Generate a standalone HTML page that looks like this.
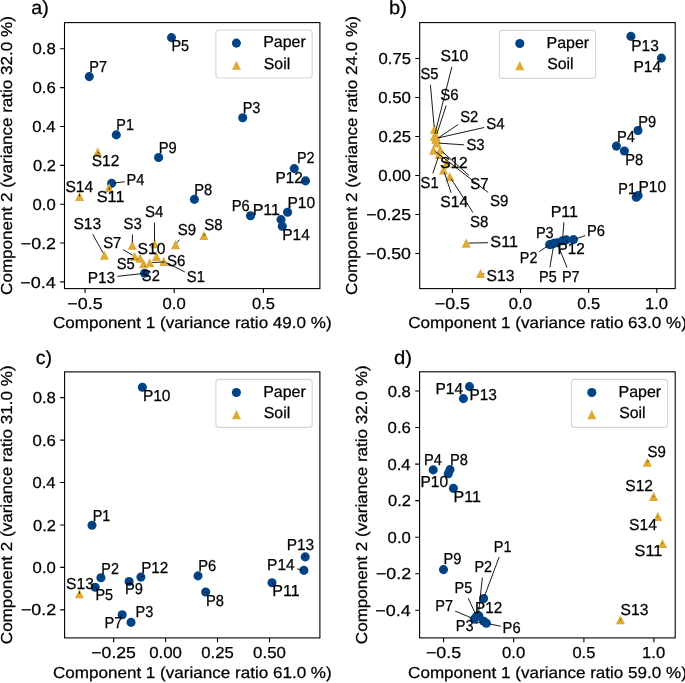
<!DOCTYPE html>
<html><head><meta charset="utf-8"><title>PCA scatter plots</title>
<style>
html,body{margin:0;padding:0;background:#fff;}
svg{display:block;will-change:transform;}
text{font-family:"Liberation Sans",sans-serif;fill:#000;stroke:#000;stroke-width:0.25px;text-rendering:geometricPrecision;}
</style></head><body>
<svg width="685" height="683" viewBox="0 0 685 683">
<rect width="685" height="683" fill="#fff"/>
<circle cx="171.5" cy="37.6" r="4.55" fill="#004488"/>
<circle cx="89.3" cy="76.6" r="4.55" fill="#004488"/>
<circle cx="116.3" cy="134.9" r="4.55" fill="#004488"/>
<circle cx="242.7" cy="117.7" r="4.55" fill="#004488"/>
<circle cx="158.6" cy="157.5" r="4.55" fill="#004488"/>
<circle cx="111.6" cy="183.4" r="4.55" fill="#004488"/>
<circle cx="194.4" cy="199.4" r="4.55" fill="#004488"/>
<circle cx="250.5" cy="215.8" r="4.55" fill="#004488"/>
<circle cx="281" cy="219.6" r="4.55" fill="#004488"/>
<circle cx="287.6" cy="212.3" r="4.55" fill="#004488"/>
<circle cx="282.3" cy="226.2" r="4.55" fill="#004488"/>
<circle cx="294.3" cy="168.6" r="4.55" fill="#004488"/>
<circle cx="305.5" cy="180.9" r="4.55" fill="#004488"/>
<circle cx="144.6" cy="273.3" r="4.55" fill="#004488"/>
<path d="M97.7 147.35L102.25 156.45L93.15 156.45Z" fill="#DDAA33"/>
<path d="M109.1 183.05L113.65 192.15L104.55 192.15Z" fill="#DDAA33"/>
<path d="M79.6 191.95L84.15 201.05L75.05 201.05Z" fill="#DDAA33"/>
<path d="M104.4 250.75L108.95 259.85L99.85 259.85Z" fill="#DDAA33"/>
<path d="M132.3 240.65L136.85 249.75L127.75 249.75Z" fill="#DDAA33"/>
<path d="M154.6 239.25L159.15 248.35L150.05 248.35Z" fill="#DDAA33"/>
<path d="M175.5 240.05L180.05 249.15L170.95 249.15Z" fill="#DDAA33"/>
<path d="M203.9 230.95L208.45 240.05L199.35 240.05Z" fill="#DDAA33"/>
<path d="M134.7 251.95L139.25 261.05L130.15 261.05Z" fill="#DDAA33"/>
<path d="M140 253.55L144.55 262.65L135.45 262.65Z" fill="#DDAA33"/>
<path d="M143.6 259.05L148.15 268.15L139.05 268.15Z" fill="#DDAA33"/>
<path d="M156.5 251.85L161.05 260.95L151.95 260.95Z" fill="#DDAA33"/>
<path d="M149.8 258.15L154.35 267.25L145.25 267.25Z" fill="#DDAA33"/>
<path d="M163.7 256.85L168.25 265.95L159.15 265.95Z" fill="#DDAA33"/>
<text x="171.51" y="51" font-size="15.9" textLength="17.6" lengthAdjust="spacingAndGlyphs">P5</text>
<text x="89.3" y="71.6" font-size="15.9" textLength="17.76" lengthAdjust="spacingAndGlyphs">P7</text>
<text x="116.31" y="130.4" font-size="15.9" textLength="17.63" lengthAdjust="spacingAndGlyphs">P1</text>
<text x="242.7" y="112.9" font-size="15.9" textLength="17.76" lengthAdjust="spacingAndGlyphs">P3</text>
<text x="158.69" y="152.9" font-size="15.9" textLength="17.93" lengthAdjust="spacingAndGlyphs">P9</text>
<text x="126.39" y="184.8" font-size="15.9" textLength="17.89" lengthAdjust="spacingAndGlyphs">P4</text>
<text x="194.29" y="194.7" font-size="15.9" textLength="17.93" lengthAdjust="spacingAndGlyphs">P8</text>
<text x="231.79" y="210.9" font-size="15.9" textLength="18.01" lengthAdjust="spacingAndGlyphs">P6</text>
<text x="252.67" y="214.7" font-size="15.9" textLength="27.4" lengthAdjust="spacingAndGlyphs">P11</text>
<text x="287.52" y="208.1" font-size="15.9" textLength="27.58" lengthAdjust="spacingAndGlyphs">P10</text>
<text x="282.22" y="239.5" font-size="15.9" textLength="27.57" lengthAdjust="spacingAndGlyphs">P14</text>
<text x="296.92" y="163" font-size="15.9" textLength="17.55" lengthAdjust="spacingAndGlyphs">P2</text>
<text x="275.54" y="183.3" font-size="15.9" textLength="27.26" lengthAdjust="spacingAndGlyphs">P12</text>
<text x="87.63" y="282.6" font-size="15.9" textLength="27.46" lengthAdjust="spacingAndGlyphs">P13</text>
<text x="91.7" y="166.2" font-size="15.9" textLength="27.64" lengthAdjust="spacingAndGlyphs">S12</text>
<text x="96.77" y="202.4" font-size="15.9" textLength="27.76" lengthAdjust="spacingAndGlyphs">S11</text>
<text x="65.39" y="191.5" font-size="15.9" textLength="27.94" lengthAdjust="spacingAndGlyphs">S14</text>
<text x="73.4" y="229" font-size="15.9" textLength="27.84" lengthAdjust="spacingAndGlyphs">S13</text>
<text x="123.53" y="229" font-size="15.9" textLength="18.23" lengthAdjust="spacingAndGlyphs">S3</text>
<text x="145.02" y="217.2" font-size="15.9" textLength="18.35" lengthAdjust="spacingAndGlyphs">S4</text>
<text x="177.72" y="234.7" font-size="15.9" textLength="18.39" lengthAdjust="spacingAndGlyphs">S9</text>
<text x="204.32" y="230.3" font-size="15.9" textLength="18.39" lengthAdjust="spacingAndGlyphs">S8</text>
<text x="103.13" y="247.5" font-size="15.9" textLength="18.23" lengthAdjust="spacingAndGlyphs">S7</text>
<text x="116.74" y="268.7" font-size="15.9" textLength="18.07" lengthAdjust="spacingAndGlyphs">S5</text>
<text x="141.84" y="280.7" font-size="15.9" textLength="18.02" lengthAdjust="spacingAndGlyphs">S2</text>
<text x="137.49" y="253.8" font-size="15.9" textLength="27.95" lengthAdjust="spacingAndGlyphs">S10</text>
<text x="166.92" y="265.8" font-size="15.9" textLength="18.47" lengthAdjust="spacingAndGlyphs">S6</text>
<text x="186.83" y="281.9" font-size="15.9" textLength="18.1" lengthAdjust="spacingAndGlyphs">S1</text>
<path d="M173.22 39.28L171.5 37.6M90.96 74.87L89.3 76.6M118 133.21L116.3 134.9M244.38 115.99L242.7 117.7M160.32 155.82L158.6 157.5M124.62 181.73L114.08 183.08M196.09 197.7L194.4 199.4M248.8 214.1L250.5 215.8M279.75 218.78L281 219.6M288.88 211.51L287.6 212.3M283.15 226.73L282.3 226.2M296.11 167.03L294.3 168.6M303.12 180.59L305.5 180.9M117.38 276.34L142.12 273.58M99.19 153.78L97.7 151.9M109.45 189.97L109.1 187.6M79.57 194.1L79.6 196.5M92.69 234.19L103.19 253.11M132.48 234.5L132.34 242.7M154.41 222.7L154.58 241.3M179.42 239.66L177.05 242.64M205.59 233.8L203.9 235.5M123.24 249.63L132.56 255.21M137 259.39L137.7 259.09M145.28 266.53L144.84 265.77M152.95 251.35L155.06 254.35M164.6 261.91L152.3 262.57M184.76 271.88L165.94 262.51" stroke="#000" stroke-width="0.9" fill="none"/>
<rect x="64.5" y="22.6" width="255.4" height="266" fill="none" stroke="#000" stroke-width="1.1"/>
<text x="67.39" y="308.8" font-size="15.9" textLength="35.2" lengthAdjust="spacingAndGlyphs">−0.5</text>
<text x="162.58" y="308.8" font-size="15.9" textLength="23.2" lengthAdjust="spacingAndGlyphs">0.0</text>
<text x="251.94" y="308.8" font-size="15.9" textLength="22.92" lengthAdjust="spacingAndGlyphs">0.5</text>
<text x="32.57" y="54.36" font-size="15.9" textLength="23.25" lengthAdjust="spacingAndGlyphs">0.8</text>
<text x="32.49" y="93.22" font-size="15.9" textLength="23.32" lengthAdjust="spacingAndGlyphs">0.6</text>
<text x="32.38" y="132.08" font-size="15.9" textLength="23.18" lengthAdjust="spacingAndGlyphs">0.4</text>
<text x="33.03" y="170.94" font-size="15.9" textLength="22.9" lengthAdjust="spacingAndGlyphs">0.2</text>
<text x="32.53" y="209.8" font-size="15.9" textLength="23.2" lengthAdjust="spacingAndGlyphs">0.0</text>
<text x="20.83" y="248.66" font-size="15.9" textLength="35.19" lengthAdjust="spacingAndGlyphs">−0.2</text>
<text x="20.19" y="287.52" font-size="15.9" textLength="35.43" lengthAdjust="spacingAndGlyphs">−0.4</text>
<path d="M85.06 288.6v4.4M174.2 288.6v4.4M263.4 288.6v4.4M64.5 48.76h-4.4M64.5 87.62h-4.4M64.5 126.48h-4.4M64.5 165.34h-4.4M64.5 204.2h-4.4M64.5 243.06h-4.4M64.5 281.92h-4.4" stroke="#000" stroke-width="1.1"/>
<text x="52.9" y="328.3" font-size="15.9" textLength="278.77" lengthAdjust="spacingAndGlyphs">Component 1 (variance ratio 49.0 %)</text>
<g transform="translate(11.7 294.05) rotate(-90)"><text x="-0.85" y="0" font-size="15.9" textLength="278.77" lengthAdjust="spacingAndGlyphs">Component 2 (variance ratio 32.0 %)</text></g>
<text x="31.36" y="13.8" font-size="19.08" textLength="17.48" lengthAdjust="spacingAndGlyphs">a)</text>
<rect x="215.9" y="30" width="96.3" height="48.0" rx="3" ry="3" fill="#fff" fill-opacity="0.8" stroke="#cccccc" stroke-opacity="0.8" stroke-width="1.1"/>
<circle cx="236.4" cy="43.1" r="4.55" fill="#004488"/>
<path d="M236.4 60.65L240.95 69.75L231.85 69.75Z" fill="#DDAA33"/>
<text x="263.18" y="47.3" font-size="15.9" textLength="42.6" lengthAdjust="spacingAndGlyphs">Paper</text>
<text x="263.79" y="68.5" font-size="15.9" textLength="26.46" lengthAdjust="spacingAndGlyphs">Soil</text>
<circle cx="630.9" cy="36.4" r="4.55" fill="#004488"/>
<circle cx="661.4" cy="58.1" r="4.55" fill="#004488"/>
<circle cx="638" cy="130.5" r="4.55" fill="#004488"/>
<circle cx="616.4" cy="146.1" r="4.55" fill="#004488"/>
<circle cx="624.4" cy="151" r="4.55" fill="#004488"/>
<circle cx="636.3" cy="197.2" r="4.55" fill="#004488"/>
<circle cx="638.1" cy="195.5" r="4.55" fill="#004488"/>
<circle cx="549.6" cy="244.6" r="4.55" fill="#004488"/>
<circle cx="551.5" cy="244.2" r="4.55" fill="#004488"/>
<circle cx="554" cy="243.2" r="4.55" fill="#004488"/>
<circle cx="557" cy="242.8" r="4.55" fill="#004488"/>
<circle cx="562.5" cy="240.8" r="4.55" fill="#004488"/>
<circle cx="566.3" cy="239.9" r="4.55" fill="#004488"/>
<circle cx="573.5" cy="239.6" r="4.55" fill="#004488"/>
<path d="M434.4 131.55L438.95 140.65L429.85 140.65Z" fill="#DDAA33"/>
<path d="M434.4 124.75L438.95 133.85L429.85 133.85Z" fill="#DDAA33"/>
<path d="M436.1 131.55L440.65 140.65L431.55 140.65Z" fill="#DDAA33"/>
<path d="M435.8 134.95L440.35 144.05L431.25 144.05Z" fill="#DDAA33"/>
<path d="M436.1 133.85L440.65 142.95L431.55 142.95Z" fill="#DDAA33"/>
<path d="M436.7 138.45L441.25 147.55L432.15 147.55Z" fill="#DDAA33"/>
<path d="M439.1 149.95L443.65 159.05L434.55 159.05Z" fill="#DDAA33"/>
<path d="M440.2 145.15L444.75 154.25L435.65 154.25Z" fill="#DDAA33"/>
<path d="M433.5 145.55L438.05 154.65L428.95 154.65Z" fill="#DDAA33"/>
<path d="M446.5 158.15L451.05 167.25L441.95 167.25Z" fill="#DDAA33"/>
<path d="M443.5 165.45L448.05 174.55L438.95 174.55Z" fill="#DDAA33"/>
<path d="M449.7 172.05L454.25 181.15L445.15 181.15Z" fill="#DDAA33"/>
<path d="M466.2 238.55L470.75 247.65L461.65 247.65Z" fill="#DDAA33"/>
<path d="M480.5 268.95L485.05 278.05L475.95 278.05Z" fill="#DDAA33"/>
<text x="631.33" y="50.6" font-size="15.9" textLength="27.46" lengthAdjust="spacingAndGlyphs">P13</text>
<text x="633.52" y="72" font-size="15.9" textLength="27.57" lengthAdjust="spacingAndGlyphs">P14</text>
<text x="638.19" y="126.5" font-size="15.9" textLength="17.93" lengthAdjust="spacingAndGlyphs">P9</text>
<text x="616.89" y="141.5" font-size="15.9" textLength="17.89" lengthAdjust="spacingAndGlyphs">P4</text>
<text x="625.29" y="164.9" font-size="15.9" textLength="17.93" lengthAdjust="spacingAndGlyphs">P8</text>
<text x="618.31" y="193.5" font-size="15.9" textLength="17.63" lengthAdjust="spacingAndGlyphs">P1</text>
<text x="638.52" y="191.7" font-size="15.9" textLength="27.58" lengthAdjust="spacingAndGlyphs">P10</text>
<text x="550.67" y="216.8" font-size="15.9" textLength="27.4" lengthAdjust="spacingAndGlyphs">P11</text>
<text x="535.9" y="237.7" font-size="15.9" textLength="17.76" lengthAdjust="spacingAndGlyphs">P3</text>
<text x="586.99" y="236.4" font-size="15.9" textLength="18.01" lengthAdjust="spacingAndGlyphs">P6</text>
<text x="557.54" y="254" font-size="15.9" textLength="27.26" lengthAdjust="spacingAndGlyphs">P12</text>
<text x="519.82" y="263.3" font-size="15.9" textLength="17.55" lengthAdjust="spacingAndGlyphs">P2</text>
<text x="539.11" y="281.8" font-size="15.9" textLength="17.6" lengthAdjust="spacingAndGlyphs">P5</text>
<text x="561.9" y="281.8" font-size="15.9" textLength="17.76" lengthAdjust="spacingAndGlyphs">P7</text>
<text x="440.39" y="61.4" font-size="15.9" textLength="27.95" lengthAdjust="spacingAndGlyphs">S10</text>
<text x="420.44" y="79.4" font-size="15.9" textLength="18.07" lengthAdjust="spacingAndGlyphs">S5</text>
<text x="440.22" y="100.2" font-size="15.9" textLength="18.47" lengthAdjust="spacingAndGlyphs">S6</text>
<text x="460.14" y="121.7" font-size="15.9" textLength="18.02" lengthAdjust="spacingAndGlyphs">S2</text>
<text x="486.32" y="129.4" font-size="15.9" textLength="18.35" lengthAdjust="spacingAndGlyphs">S4</text>
<text x="466.43" y="150.1" font-size="15.9" textLength="18.23" lengthAdjust="spacingAndGlyphs">S3</text>
<text x="440.1" y="168.3" font-size="15.9" textLength="27.64" lengthAdjust="spacingAndGlyphs">S12</text>
<text x="420.53" y="187.8" font-size="15.9" textLength="18.1" lengthAdjust="spacingAndGlyphs">S1</text>
<text x="470.23" y="189.2" font-size="15.9" textLength="18.23" lengthAdjust="spacingAndGlyphs">S7</text>
<text x="490.02" y="205.5" font-size="15.9" textLength="18.39" lengthAdjust="spacingAndGlyphs">S9</text>
<text x="440.29" y="207.2" font-size="15.9" textLength="27.94" lengthAdjust="spacingAndGlyphs">S14</text>
<text x="469.92" y="226.6" font-size="15.9" textLength="18.39" lengthAdjust="spacingAndGlyphs">S8</text>
<text x="490.37" y="246.9" font-size="15.9" textLength="27.76" lengthAdjust="spacingAndGlyphs">S11</text>
<text x="486.6" y="280.5" font-size="15.9" textLength="27.84" lengthAdjust="spacingAndGlyphs">S13</text>
<path d="M632.89 37.74L630.9 36.4M659.42 59.46L661.4 58.1M639.78 128.89L638 130.5M618.16 144.47L616.4 146.1M626.16 152.63L624.4 151M634.53 195.58L636.3 197.2M640.18 194.31L638.1 195.5M563.9 222.29L562.69 238.31M550.29 242.13L551.5 244.2M585.33 235.6L575.87 238.8M567.43 242.02L566.3 239.9M539.2 251.71L547.54 246.01M549.9 267.34L553.58 245.66M567.03 267.48L557.94 245.12M451.9 66.82L435.01 133.68M430.4 84.89L434.18 126.81M446.2 105.57L436.89 133.73M458.22 124.49L437.88 138.11M484.06 127.52L438.54 137.85M464.11 144.83L439.19 143.17M451.4 163.43L448.97 163.07M432.83 173.43L438.31 156.87M469.06 175.53L442.06 151.37M488.22 192.49L435.48 151.63M451.1 192.83L444.29 172.37M472.92 212.5L451.06 178.7M488.1 242.7L468.7 243.05M484.32 273.98L482.98 273.81" stroke="#000" stroke-width="0.9" fill="none"/>
<rect x="419.7" y="22.6" width="255.5" height="266" fill="none" stroke="#000" stroke-width="1.1"/>
<text x="434.73" y="308.8" font-size="15.9" textLength="35.2" lengthAdjust="spacingAndGlyphs">−0.5</text>
<text x="508.88" y="308.8" font-size="15.9" textLength="23.2" lengthAdjust="spacingAndGlyphs">0.0</text>
<text x="577.24" y="308.8" font-size="15.9" textLength="22.92" lengthAdjust="spacingAndGlyphs">0.5</text>
<text x="644.94" y="308.8" font-size="15.9" textLength="23.1" lengthAdjust="spacingAndGlyphs">1.0</text>
<text x="378.51" y="64.1" font-size="15.9" textLength="32.48" lengthAdjust="spacingAndGlyphs">0.75</text>
<text x="378.2" y="103.1" font-size="15.9" textLength="32.75" lengthAdjust="spacingAndGlyphs">0.50</text>
<text x="378.51" y="142.1" font-size="15.9" textLength="32.48" lengthAdjust="spacingAndGlyphs">0.25</text>
<text x="378.2" y="181.1" font-size="15.9" textLength="32.75" lengthAdjust="spacingAndGlyphs">0.00</text>
<text x="366.33" y="220.1" font-size="15.9" textLength="44.68" lengthAdjust="spacingAndGlyphs">−0.25</text>
<text x="366.02" y="259.1" font-size="15.9" textLength="44.95" lengthAdjust="spacingAndGlyphs">−0.50</text>
<path d="M452.4 288.6v4.4M520.5 288.6v4.4M588.7 288.6v4.4M656.8 288.6v4.4M419.7 58.5h-4.4M419.7 97.5h-4.4M419.7 136.5h-4.4M419.7 175.5h-4.4M419.7 214.5h-4.4M419.7 253.5h-4.4" stroke="#000" stroke-width="1.1"/>
<text x="408.15" y="328.3" font-size="15.9" textLength="278.77" lengthAdjust="spacingAndGlyphs">Component 1 (variance ratio 63.0 %)</text>
<g transform="translate(357.3 294.05) rotate(-90)"><text x="-0.85" y="0" font-size="15.9" textLength="278.77" lengthAdjust="spacingAndGlyphs">Component 2 (variance ratio 24.0 %)</text></g>
<text x="389" y="13.6" font-size="19.08" textLength="17.84" lengthAdjust="spacingAndGlyphs">b)</text>
<rect x="499.3" y="30.4" width="96.3" height="48.0" rx="3" ry="3" fill="#fff" fill-opacity="0.8" stroke="#cccccc" stroke-opacity="0.8" stroke-width="1.1"/>
<circle cx="519.8" cy="43.5" r="4.55" fill="#004488"/>
<path d="M519.8 61.05L524.35 70.15L515.25 70.15Z" fill="#DDAA33"/>
<text x="546.58" y="47.7" font-size="15.9" textLength="42.6" lengthAdjust="spacingAndGlyphs">Paper</text>
<text x="547.19" y="68.9" font-size="15.9" textLength="26.46" lengthAdjust="spacingAndGlyphs">Soil</text>
<circle cx="142.4" cy="387.2" r="4.55" fill="#004488"/>
<circle cx="92" cy="525.3" r="4.55" fill="#004488"/>
<circle cx="100.9" cy="577.7" r="4.55" fill="#004488"/>
<circle cx="95.2" cy="587.2" r="4.55" fill="#004488"/>
<path d="M79.4 589.25L83.95 598.35L74.85 598.35Z" fill="#DDAA33"/>
<circle cx="129.1" cy="581.5" r="4.55" fill="#004488"/>
<circle cx="140.9" cy="577.1" r="4.55" fill="#004488"/>
<circle cx="122.2" cy="614.8" r="4.55" fill="#004488"/>
<circle cx="131" cy="622.4" r="4.55" fill="#004488"/>
<circle cx="198" cy="575.9" r="4.55" fill="#004488"/>
<circle cx="205.7" cy="592" r="4.55" fill="#004488"/>
<circle cx="272" cy="582.8" r="4.55" fill="#004488"/>
<circle cx="305.2" cy="556.9" r="4.55" fill="#004488"/>
<circle cx="303.9" cy="570.4" r="4.55" fill="#004488"/>
<text x="142.92" y="400.8" font-size="15.9" textLength="27.58" lengthAdjust="spacingAndGlyphs">P10</text>
<text x="92.71" y="521" font-size="15.9" textLength="17.63" lengthAdjust="spacingAndGlyphs">P1</text>
<text x="101.32" y="573.5" font-size="15.9" textLength="17.55" lengthAdjust="spacingAndGlyphs">P2</text>
<text x="95.51" y="600.1" font-size="15.9" textLength="17.6" lengthAdjust="spacingAndGlyphs">P5</text>
<text x="66" y="589.1" font-size="15.9" textLength="27.84" lengthAdjust="spacingAndGlyphs">S13</text>
<text x="124.99" y="594.4" font-size="15.9" textLength="17.93" lengthAdjust="spacingAndGlyphs">P9</text>
<text x="141.14" y="572.9" font-size="15.9" textLength="27.26" lengthAdjust="spacingAndGlyphs">P12</text>
<text x="104.5" y="627.7" font-size="15.9" textLength="17.76" lengthAdjust="spacingAndGlyphs">P7</text>
<text x="135.5" y="617.3" font-size="15.9" textLength="17.76" lengthAdjust="spacingAndGlyphs">P3</text>
<text x="198.29" y="571.4" font-size="15.9" textLength="18.01" lengthAdjust="spacingAndGlyphs">P6</text>
<text x="206.09" y="605.6" font-size="15.9" textLength="17.93" lengthAdjust="spacingAndGlyphs">P8</text>
<text x="272.37" y="596.1" font-size="15.9" textLength="27.4" lengthAdjust="spacingAndGlyphs">P11</text>
<text x="286.63" y="550" font-size="15.9" textLength="27.46" lengthAdjust="spacingAndGlyphs">P13</text>
<text x="267.12" y="569.5" font-size="15.9" textLength="27.57" lengthAdjust="spacingAndGlyphs">P14</text>
<path d="M144.44 388.47L142.4 387.2M93.78 523.69L92 525.3M102.66 576.07L100.9 577.7M96.99 588.8L95.2 587.2M79.54 591.4L79.4 593.8M130.35 583.55L129.1 581.5M142.94 575.84L140.9 577.1M120.48 616.48L122.2 614.8M134.15 620.18L133.05 620.96M199.75 574.26L198 575.9M207.45 593.65L205.7 592M274.05 584.05L272 582.8M304.31 554.67L305.2 556.9M297.17 568.79L301.47 569.82" stroke="#000" stroke-width="0.9" fill="none"/>
<rect x="64.6" y="371.9" width="255.3" height="266" fill="none" stroke="#000" stroke-width="1.1"/>
<text x="91.27" y="658.1" font-size="15.9" textLength="44.68" lengthAdjust="spacingAndGlyphs">−0.25</text>
<text x="149.21" y="658.1" font-size="15.9" textLength="32.75" lengthAdjust="spacingAndGlyphs">0.00</text>
<text x="201.27" y="658.1" font-size="15.9" textLength="32.48" lengthAdjust="spacingAndGlyphs">0.25</text>
<text x="253.11" y="658.1" font-size="15.9" textLength="32.75" lengthAdjust="spacingAndGlyphs">0.50</text>
<text x="32.67" y="403.24" font-size="15.9" textLength="23.25" lengthAdjust="spacingAndGlyphs">0.8</text>
<text x="32.59" y="445.68" font-size="15.9" textLength="23.32" lengthAdjust="spacingAndGlyphs">0.6</text>
<text x="32.48" y="488.12" font-size="15.9" textLength="23.18" lengthAdjust="spacingAndGlyphs">0.4</text>
<text x="33.13" y="530.56" font-size="15.9" textLength="22.9" lengthAdjust="spacingAndGlyphs">0.2</text>
<text x="32.63" y="573" font-size="15.9" textLength="23.2" lengthAdjust="spacingAndGlyphs">0.0</text>
<text x="20.93" y="615.44" font-size="15.9" textLength="35.19" lengthAdjust="spacingAndGlyphs">−0.2</text>
<path d="M113.7 637.9v4.4M165.6 637.9v4.4M217.5 637.9v4.4M269.5 637.9v4.4M64.6 397.64h-4.4M64.6 440.08h-4.4M64.6 482.52h-4.4M64.6 524.96h-4.4M64.6 567.4h-4.4M64.6 609.84h-4.4" stroke="#000" stroke-width="1.1"/>
<text x="52.95" y="677.6" font-size="15.9" textLength="278.77" lengthAdjust="spacingAndGlyphs">Component 1 (variance ratio 61.0 %)</text>
<g transform="translate(11.7 643.35) rotate(-90)"><text x="-0.85" y="0" font-size="15.9" textLength="278.77" lengthAdjust="spacingAndGlyphs">Component 2 (variance ratio 31.0 %)</text></g>
<text x="35.76" y="364.3" font-size="19.08" textLength="16.43" lengthAdjust="spacingAndGlyphs">c)</text>
<rect x="215.9" y="379.4" width="96.3" height="48.0" rx="3" ry="3" fill="#fff" fill-opacity="0.8" stroke="#cccccc" stroke-opacity="0.8" stroke-width="1.1"/>
<circle cx="236.4" cy="392.5" r="4.55" fill="#004488"/>
<path d="M236.4 410.05L240.95 419.15L231.85 419.15Z" fill="#DDAA33"/>
<text x="263.18" y="396.7" font-size="15.9" textLength="42.6" lengthAdjust="spacingAndGlyphs">Paper</text>
<text x="263.79" y="417.9" font-size="15.9" textLength="26.46" lengthAdjust="spacingAndGlyphs">Soil</text>
<circle cx="469.5" cy="386.6" r="4.55" fill="#004488"/>
<circle cx="463.4" cy="398.6" r="4.55" fill="#004488"/>
<circle cx="433.2" cy="469.9" r="4.55" fill="#004488"/>
<circle cx="450" cy="469.6" r="4.55" fill="#004488"/>
<circle cx="448.3" cy="473.7" r="4.55" fill="#004488"/>
<circle cx="453.4" cy="488.4" r="4.55" fill="#004488"/>
<circle cx="443.5" cy="569.6" r="4.55" fill="#004488"/>
<circle cx="483.6" cy="598.5" r="4.55" fill="#004488"/>
<circle cx="478.3" cy="615.5" r="4.55" fill="#004488"/>
<circle cx="476.6" cy="616.4" r="4.55" fill="#004488"/>
<circle cx="474.4" cy="619.1" r="4.55" fill="#004488"/>
<circle cx="479" cy="616.5" r="4.55" fill="#004488"/>
<circle cx="483.8" cy="621.2" r="4.55" fill="#004488"/>
<circle cx="486.4" cy="623.3" r="4.55" fill="#004488"/>
<path d="M647.3 457.65L651.85 466.75L642.75 466.75Z" fill="#DDAA33"/>
<path d="M653.6 491.85L658.15 500.95L649.05 500.95Z" fill="#DDAA33"/>
<path d="M657.9 511.85L662.45 520.95L653.35 520.95Z" fill="#DDAA33"/>
<path d="M662.5 538.95L667.05 548.05L657.95 548.05Z" fill="#DDAA33"/>
<path d="M620.4 615.15L624.95 624.25L615.85 624.25Z" fill="#DDAA33"/>
<text x="435.52" y="394.2" font-size="15.9" textLength="27.57" lengthAdjust="spacingAndGlyphs">P14</text>
<text x="469.43" y="400" font-size="15.9" textLength="27.46" lengthAdjust="spacingAndGlyphs">P13</text>
<text x="423.89" y="465.2" font-size="15.9" textLength="17.89" lengthAdjust="spacingAndGlyphs">P4</text>
<text x="449.89" y="465.2" font-size="15.9" textLength="17.93" lengthAdjust="spacingAndGlyphs">P8</text>
<text x="420.52" y="487" font-size="15.9" textLength="27.58" lengthAdjust="spacingAndGlyphs">P10</text>
<text x="453.47" y="502.1" font-size="15.9" textLength="27.4" lengthAdjust="spacingAndGlyphs">P11</text>
<text x="443.59" y="563.9" font-size="15.9" textLength="17.93" lengthAdjust="spacingAndGlyphs">P9</text>
<text x="493.81" y="551.7" font-size="15.9" textLength="17.63" lengthAdjust="spacingAndGlyphs">P1</text>
<text x="474.42" y="572" font-size="15.9" textLength="17.55" lengthAdjust="spacingAndGlyphs">P2</text>
<text x="454.61" y="592.9" font-size="15.9" textLength="17.6" lengthAdjust="spacingAndGlyphs">P5</text>
<text x="435.3" y="611.1" font-size="15.9" textLength="17.76" lengthAdjust="spacingAndGlyphs">P7</text>
<text x="474.94" y="613.3" font-size="15.9" textLength="27.26" lengthAdjust="spacingAndGlyphs">P12</text>
<text x="455.8" y="631" font-size="15.9" textLength="17.76" lengthAdjust="spacingAndGlyphs">P3</text>
<text x="502.59" y="633" font-size="15.9" textLength="18.01" lengthAdjust="spacingAndGlyphs">P6</text>
<text x="647.42" y="456.9" font-size="15.9" textLength="18.39" lengthAdjust="spacingAndGlyphs">S9</text>
<text x="625.3" y="491.3" font-size="15.9" textLength="27.64" lengthAdjust="spacingAndGlyphs">S12</text>
<text x="628.99" y="529.5" font-size="15.9" textLength="27.94" lengthAdjust="spacingAndGlyphs">S14</text>
<text x="634.57" y="556.4" font-size="15.9" textLength="27.76" lengthAdjust="spacingAndGlyphs">S11</text>
<text x="620.6" y="615" font-size="15.9" textLength="27.84" lengthAdjust="spacingAndGlyphs">S13</text>
<path d="M468.71 386.72L469.5 386.6M464.19 398.48L463.4 398.6M433.21 468.2L433.2 469.9M451.72 467.93L450 469.6M447.63 474.13L448.3 473.7M454.07 488.84L453.4 488.4M445.12 567.83L443.5 569.6M499.18 557.04L484.48 596.16M482.35 577.49L478.57 613.01M468.21 598.17L475.55 614.13M455.13 611.07L472.09 618.14M480.89 615.02L479 616.5M475.84 623.44L481.39 621.88M500.85 626.25L488.85 623.8M648.95 460.46L647.3 462.2M652.93 495.96L653.6 496.4M657.21 516.8L657.9 516.4M661.81 543.91L662.5 543.5M621.07 619.26L620.4 619.7" stroke="#000" stroke-width="0.9" fill="none"/>
<rect x="419.6" y="371.8" width="255.6" height="266.1" fill="none" stroke="#000" stroke-width="1.1"/>
<text x="425.93" y="658.1" font-size="15.9" textLength="35.2" lengthAdjust="spacingAndGlyphs">−0.5</text>
<text x="502.08" y="658.1" font-size="15.9" textLength="23.2" lengthAdjust="spacingAndGlyphs">0.0</text>
<text x="572.44" y="658.1" font-size="15.9" textLength="22.92" lengthAdjust="spacingAndGlyphs">0.5</text>
<text x="642.04" y="658.1" font-size="15.9" textLength="23.1" lengthAdjust="spacingAndGlyphs">1.0</text>
<text x="387.67" y="396.56" font-size="15.9" textLength="23.25" lengthAdjust="spacingAndGlyphs">0.8</text>
<text x="387.59" y="433.12" font-size="15.9" textLength="23.32" lengthAdjust="spacingAndGlyphs">0.6</text>
<text x="387.48" y="469.68" font-size="15.9" textLength="23.18" lengthAdjust="spacingAndGlyphs">0.4</text>
<text x="388.13" y="506.24" font-size="15.9" textLength="22.9" lengthAdjust="spacingAndGlyphs">0.2</text>
<text x="387.63" y="542.8" font-size="15.9" textLength="23.2" lengthAdjust="spacingAndGlyphs">0.0</text>
<text x="375.93" y="579.36" font-size="15.9" textLength="35.19" lengthAdjust="spacingAndGlyphs">−0.2</text>
<text x="375.29" y="615.92" font-size="15.9" textLength="35.43" lengthAdjust="spacingAndGlyphs">−0.4</text>
<path d="M443.6 637.9v4.4M513.7 637.9v4.4M583.9 637.9v4.4M653.9 637.9v4.4M419.6 390.96h-4.4M419.6 427.52h-4.4M419.6 464.08h-4.4M419.6 500.64h-4.4M419.6 537.2h-4.4M419.6 573.76h-4.4M419.6 610.32h-4.4" stroke="#000" stroke-width="1.1"/>
<text x="408.1" y="677.6" font-size="15.9" textLength="278.77" lengthAdjust="spacingAndGlyphs">Component 1 (variance ratio 59.0 %)</text>
<g transform="translate(367.1 643.3) rotate(-90)"><text x="-0.85" y="0" font-size="15.9" textLength="278.77" lengthAdjust="spacingAndGlyphs">Component 2 (variance ratio 32.0 %)</text></g>
<text x="394.04" y="363.8" font-size="19.08" textLength="18.04" lengthAdjust="spacingAndGlyphs">d)</text>
<rect x="571.3" y="379.4" width="96.3" height="48.0" rx="3" ry="3" fill="#fff" fill-opacity="0.8" stroke="#cccccc" stroke-opacity="0.8" stroke-width="1.1"/>
<circle cx="591.8" cy="392.5" r="4.55" fill="#004488"/>
<path d="M591.8 410.05L596.35 419.15L587.25 419.15Z" fill="#DDAA33"/>
<text x="618.58" y="396.7" font-size="15.9" textLength="42.6" lengthAdjust="spacingAndGlyphs">Paper</text>
<text x="619.19" y="417.9" font-size="15.9" textLength="26.46" lengthAdjust="spacingAndGlyphs">Soil</text>
</svg>
</body></html>
